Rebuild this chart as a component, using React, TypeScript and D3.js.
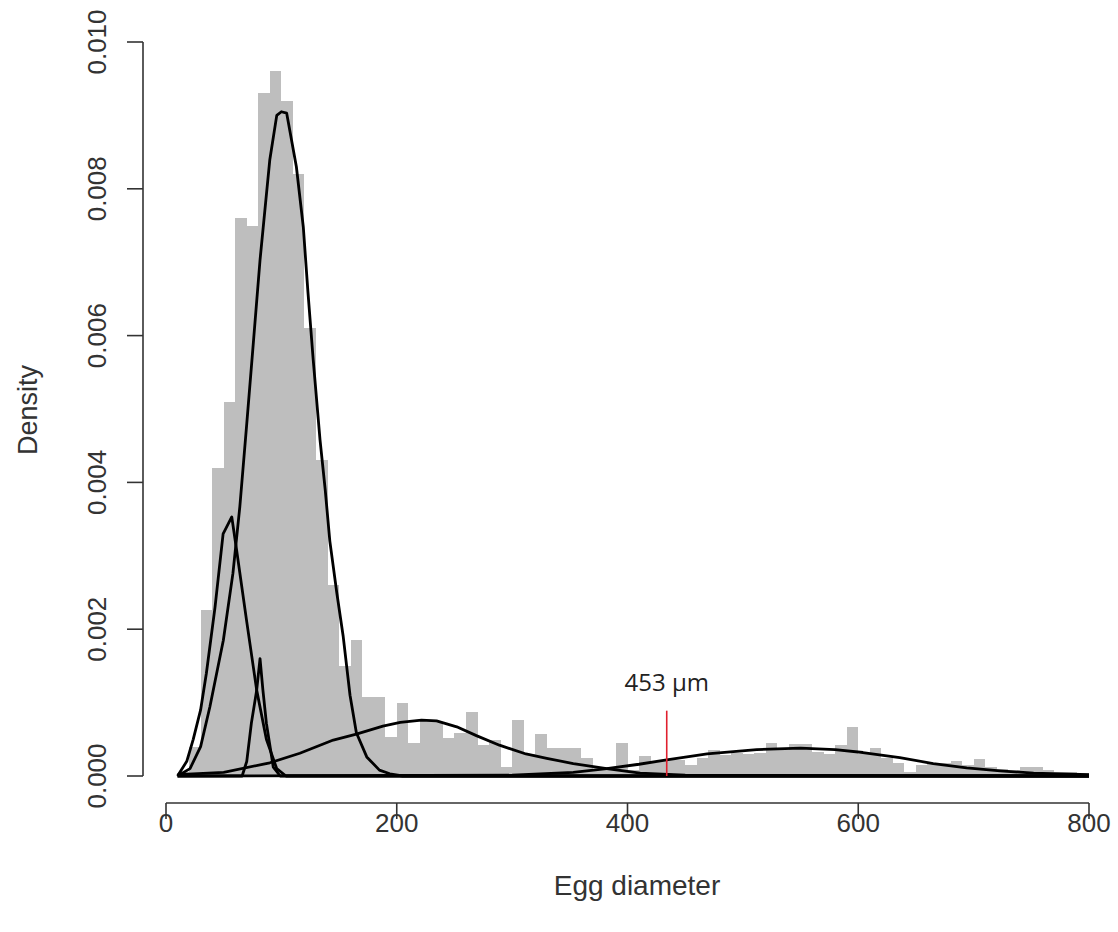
import React from 'react'
import * as d3 from 'd3'

// histogram: density per 10-unit bin, 0..800
const binWidth = 10
const densities = [
  0, 0.00005, 0.0004, 0.00226, 0.0042, 0.0051, 0.0076, 0.0075, 0.0093, 0.0096,
  0.0092, 0.0082, 0.0061, 0.0043, 0.0026, 0.0015, 0.00185, 0.00107, 0.00107, 0.00053,
  0.00099, 0.00045, 0.00076, 0.00074, 0.00052, 0.00058, 0.00087, 0.00042, 0.00049, 0.00012,
  0.00076, 0.0003, 0.00057, 0.00038, 0.00038, 0.00038, 0.00025, 0.0001, 0.0001, 0.00045,
  0.00008, 0.00027, 0.0002, 0.00022, 0.00022, 0.00015, 0.00025, 0.00036, 0.00028, 0.00032,
  0.0003, 0.00031, 0.00045, 0.00035, 0.00044, 0.00043, 0.00033, 0.0003, 0.00042, 0.00067,
  0.0003, 0.00038, 0.00025, 0.00018, 0.00005, 0.00015, 0.00018, 0.00018, 0.0002, 0.00015,
  0.00023, 0.00012, 0.0001, 0.00008, 0.00012, 0.00012, 0.00008, 0.00006, 0.00005, 0.00004
]

// fitted mixture components [diameter, density]
const comp1 = [
  [10, 0], [18, 0.0002], [23.6, 0.0005], [30, 0.0009], [35, 0.0014], [42.5, 0.0023],
  [49.5, 0.0033], [57, 0.00353], [61, 0.0031], [70, 0.0021], [78.6, 0.00117],
  [87, 0.0005], [96, 0.0001], [104, 0], [800, 0]
]
const comp2 = [
  [10, 0], [20.8, 0.0001], [30, 0.0004], [38, 0.00094], [49.7, 0.00185], [58, 0.00276],
  [64, 0.00367], [70, 0.0048], [75.7, 0.0059], [81.5, 0.00703], [90, 0.0084], [96, 0.009],
  [100, 0.00905], [104.6, 0.00903], [113, 0.0083], [119, 0.00748], [123, 0.0066],
  [127.6, 0.00567], [133.5, 0.00458], [138, 0.0039], [142, 0.0032], [148, 0.0025],
  [153.6, 0.0019], [159.5, 0.0011], [165, 0.00059], [174, 0.00026], [185, 0.00008],
  [194, 0.00003], [205, 0], [800, 0]
]
const comp3 = [
  [10, 0], [66, 0], [70, 0.0002], [74, 0.00072], [78.6, 0.00117], [81.5, 0.0016],
  [84, 0.00117], [87, 0.00072], [93, 0.00012], [99, 0], [800, 0]
]
const comp4 = [
  [10, 0.00002], [50, 0.00005], [90, 0.00018], [116, 0.00031], [145, 0.00049],
  [165, 0.00057], [188, 0.00068], [203, 0.00073], [221.5, 0.00076], [234.5, 0.00075],
  [252, 0.00067], [269, 0.00055], [289, 0.00042], [312, 0.0003], [330, 0.00024],
  [353, 0.00017], [382, 0.0001], [411, 0.00004], [450, 0.00001], [800, 0]
]
const comp5 = [
  [10, 0], [300, 0.00001], [353, 0.00005], [382, 0.0001], [410, 0.00016], [434, 0.00022],
  [469, 0.0003], [512, 0.00036], [550, 0.00038], [580, 0.00036], [604, 0.00032],
  [636, 0.00025], [665, 0.00017], [694, 0.00011], [723, 0.00007], [752, 0.00004],
  [800, 0.00002]
]
const components = [comp1, comp2, comp3, comp4, comp5]

const xTicks = [0, 200, 400, 600, 800]
const yTicks = [0, 0.002, 0.004, 0.006, 0.008, 0.01]
const markerAt = 434
const markerTop = 0.00089
const markerLabel = '453 \u03bcm'

export default function App() {
  const x = d3.scaleLinear().domain([0, 800]).range([166, 1089])
  const y = d3.scaleLinear().domain([0, 0.01]).range([776, 42])
  const line = d3.line<number[]>().x(d => x(d[0])).y(d => y(d[1]))
  const font = '"Liberation Sans", Arial, sans-serif'
  const axisY = 803
  const axisX = 143

  return (
    <svg width={1118} height={932} style={{position: 'absolute', left: 0, top: 0, background: '#fff'}}>
      <g shapeRendering="crispEdges">
        {densities.map((d, i) => (
          <rect key={i}
            x={x(i * binWidth)} width={x((i + 1) * binWidth) - x(i * binWidth)}
            y={y(d)} height={y(0) - y(d)} fill="#bebebe" />
        ))}
      </g>

      {components.map((c, i) => (
        <path key={i} d={line(c) || ''} fill="none" stroke="#000" strokeWidth={2.8} strokeLinejoin="round" />
      ))}

      <line x1={x(markerAt)} x2={x(markerAt)} y1={y(markerTop)} y2={y(0)} stroke="#e0202e" strokeWidth={1.6} />
      <text x={x(markerAt)} y={691} textAnchor="middle" fontFamily='"Open Sans", sans-serif' fontSize={24} fill="#222">{markerLabel}</text>

      {/* x axis */}
      <g stroke="#333" strokeWidth={1.6} fill="none">
        <line x1={x(0)} x2={x(800)} y1={axisY} y2={axisY} />
        {xTicks.map(t => <line key={t} x1={x(t)} x2={x(t)} y1={axisY} y2={axisY + 16} />)}
      </g>
      {xTicks.map(t => (
        <text key={t} x={x(t)} y={832} textAnchor="middle" fontFamily={font} fontSize={26} fill="#333">{t}</text>
      ))}
      <text x={637} y={895} textAnchor="middle" fontFamily={font} fontSize={28} fill="#333">Egg diameter</text>

      {/* y axis */}
      <g stroke="#333" strokeWidth={1.6} fill="none">
        <line x1={axisX} x2={axisX} y1={y(0)} y2={y(0.01)} />
        {yTicks.map(t => <line key={t} x1={axisX - 16} x2={axisX} y1={y(t)} y2={y(t)} />)}
      </g>
      {yTicks.map(t => (
        <text key={t} transform={`translate(106,${y(t)}) rotate(-90)`} textAnchor="middle"
          fontFamily={font} fontSize={26} fill="#333">{d3.format('.3f')(t)}</text>
      ))}
      <text transform="translate(37,410) rotate(-90)" textAnchor="middle" fontFamily={font} fontSize={27} fill="#333">Density</text>
    </svg>
  )
}
